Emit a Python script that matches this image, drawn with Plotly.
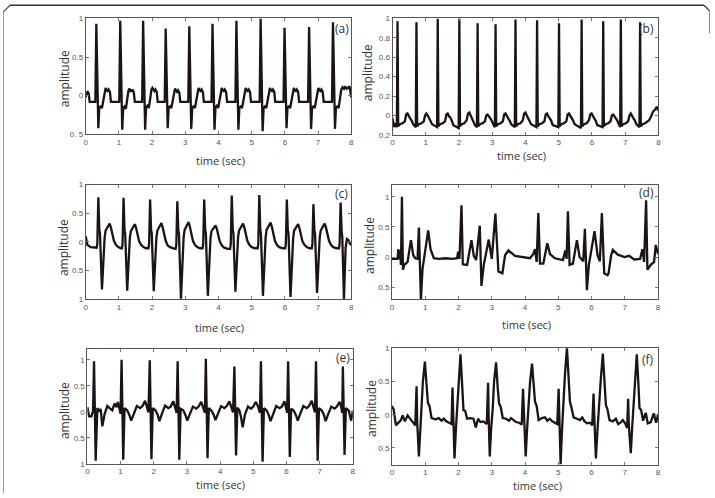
import plotly.graph_objects as go

W, H = 715, 498

# ---------------- data ----------------
# (a)
a_t = [0.00, 0.03, 0.06, 0.09, 0.12,
       0.29, 0.32, 0.38, 0.41, 0.45, 0.49, 0.53, 0.57, 0.60, 0.63, 0.66, 0.69, 0.73, 0.76,
       1.01, 1.04, 1.10, 1.13, 1.17, 1.21, 1.25, 1.29, 1.32, 1.35, 1.38, 1.41, 1.45, 1.48,
       1.70, 1.73, 1.79, 1.82, 1.86, 1.90, 1.94, 1.98, 2.01, 2.04, 2.07, 2.10, 2.14, 2.17,
       2.38, 2.41, 2.47, 2.50, 2.54, 2.58, 2.62, 2.66, 2.69, 2.72, 2.75, 2.78, 2.82, 2.85,
       3.09, 3.12, 3.18, 3.21, 3.25, 3.29, 3.33, 3.37, 3.40, 3.43, 3.46, 3.49, 3.53, 3.56,
       3.79, 3.82, 3.88, 3.91, 3.95, 3.99, 4.03, 4.07, 4.10, 4.13, 4.16, 4.19, 4.23, 4.26,
       4.51, 4.54, 4.60, 4.63, 4.67, 4.71, 4.75, 4.79, 4.82, 4.85, 4.88, 4.91, 4.95, 4.98,
       5.24, 5.27, 5.33, 5.36, 5.40, 5.44, 5.48, 5.52, 5.55, 5.58, 5.61, 5.64, 5.68, 5.71,
       5.96, 5.99, 6.05, 6.08, 6.12, 6.16, 6.20, 6.24, 6.27, 6.30, 6.33, 6.36, 6.40, 6.43,
       6.70, 6.73, 6.79, 6.82, 6.86, 6.90, 6.94, 6.98, 7.01, 7.04, 7.07, 7.10, 7.14, 7.17,
       7.42, 7.45, 7.51, 7.54, 7.58, 7.62, 7.66, 7.70, 7.74, 7.78, 7.82, 7.86, 7.90, 7.95, 8.00]
a_y = [-0.02, 0.04, 0.05, 0.03, -0.08,
       -0.08, 0.93, -0.42, -0.15, -0.14, -0.16, -0.05, 0.07, 0.10, 0.07, 0.06, 0.08, 0.05, -0.08,
       -0.08, 0.97, -0.44, -0.16, -0.14, -0.17, -0.04, 0.07, 0.09, 0.06, 0.06, 0.08, 0.04, -0.08,
       -0.08, 0.97, -0.44, -0.15, -0.13, -0.16, -0.05, 0.08, 0.10, 0.07, 0.06, 0.08, 0.05, -0.08,
       -0.08, 0.87, -0.42, -0.15, -0.14, -0.16, -0.05, 0.07, 0.09, 0.07, 0.05, 0.07, 0.04, -0.08,
       -0.08, 0.90, -0.43, -0.15, -0.14, -0.16, -0.05, 0.08, 0.10, 0.07, 0.06, 0.08, 0.05, -0.08,
       -0.08, 0.93, -0.44, -0.15, -0.13, -0.16, -0.05, 0.07, 0.10, 0.07, 0.06, 0.08, 0.05, -0.08,
       -0.08, 0.97, -0.44, -0.15, -0.14, -0.16, -0.05, 0.08, 0.10, 0.07, 0.06, 0.08, 0.05, -0.08,
       -0.08, 1.00, -0.46, -0.16, -0.14, -0.16, -0.05, 0.07, 0.10, 0.07, 0.06, 0.08, 0.05, -0.08,
       -0.08, 0.88, -0.42, -0.15, -0.14, -0.16, -0.05, 0.07, 0.10, 0.07, 0.06, 0.08, 0.05, -0.08,
       -0.08, 0.89, -0.43, -0.15, -0.14, -0.16, -0.05, 0.07, 0.10, 0.07, 0.06, 0.08, 0.05, -0.08,
       -0.08, 0.95, -0.43, -0.15, -0.14, -0.16, -0.05, 0.08, 0.11, 0.09, 0.12, 0.09, 0.10, 0.12, -0.02]

# (b)
b_t = [0.00, 0.05, 0.10,
       0.13, 0.15, 0.17, 0.22, 0.30, 0.37, 0.41, 0.45, 0.49, 0.53, 0.57, 0.62,
       0.70, 0.72, 0.74, 0.79, 0.87, 0.94, 0.98, 1.02, 1.06, 1.10, 1.14, 1.19,
       1.34, 1.36, 1.38, 1.43, 1.51, 1.58, 1.62, 1.66, 1.70, 1.74, 1.78, 1.83,
       1.99, 2.01, 2.03, 2.08, 2.16, 2.23, 2.27, 2.31, 2.35, 2.39, 2.43, 2.48,
       2.54, 2.56, 2.58, 2.63, 2.71, 2.78, 2.82, 2.86, 2.90, 2.94, 2.98, 3.03,
       3.08, 3.10, 3.12, 3.17, 3.25, 3.32, 3.36, 3.40, 3.44, 3.48, 3.52, 3.57,
       3.68, 3.70, 3.72, 3.77, 3.85, 3.92, 3.96, 4.00, 4.04, 4.08, 4.12, 4.17,
       4.33, 4.35, 4.37, 4.42, 4.50, 4.57, 4.61, 4.65, 4.69, 4.73, 4.77, 4.82,
       4.99, 5.01, 5.03, 5.08, 5.16, 5.23, 5.27, 5.31, 5.35, 5.39, 5.43, 5.48,
       5.67, 5.69, 5.71, 5.76, 5.84, 5.91, 5.95, 5.99, 6.03, 6.07, 6.11, 6.16,
       6.32, 6.34, 6.36, 6.41, 6.49, 6.56, 6.60, 6.64, 6.68, 6.72, 6.76, 6.81,
       6.85, 6.87, 6.89, 6.94, 7.02, 7.09, 7.13, 7.17, 7.21, 7.25, 7.29, 7.34,
       7.43, 7.45, 7.47, 7.52, 7.60, 7.67, 7.72, 7.78, 7.84, 7.90, 7.95, 8.00]
b_y = [-0.03, -0.12, -0.08,
       -0.12, 0.97, -0.11, -0.09, -0.08, -0.06, 0.01, 0.02, -0.01, -0.03, -0.05, -0.09,
       -0.12, 0.96, -0.11, -0.09, -0.08, -0.06, 0.00, 0.02, 0.00, -0.03, -0.05, -0.09,
       -0.12, 1.00, -0.11, -0.09, -0.08, -0.06, 0.01, 0.02, -0.01, -0.02, -0.05, -0.10,
       -0.13, 1.00, -0.11, -0.09, -0.08, -0.05, 0.02, 0.03, 0.00, -0.03, -0.06, -0.10,
       -0.12, 0.95, -0.11, -0.09, -0.08, -0.06, 0.00, 0.01, -0.01, -0.03, -0.05, -0.09,
       -0.12, 0.94, -0.11, -0.09, -0.08, -0.06, 0.01, 0.02, -0.01, -0.03, -0.05, -0.09,
       -0.12, 0.99, -0.11, -0.09, -0.08, -0.05, 0.02, 0.03, 0.00, -0.03, -0.05, -0.09,
       -0.12, 0.98, -0.11, -0.09, -0.08, -0.06, 0.01, 0.02, -0.01, -0.03, -0.05, -0.10,
       -0.12, 0.95, -0.11, -0.09, -0.08, -0.06, 0.01, 0.02, 0.00, -0.03, -0.05, -0.09,
       -0.13, 0.99, -0.11, -0.09, -0.08, -0.05, 0.01, 0.02, -0.01, -0.03, -0.05, -0.10,
       -0.12, 0.97, -0.11, -0.09, -0.08, -0.06, 0.00, 0.01, -0.01, -0.03, -0.05, -0.09,
       -0.12, 0.99, -0.11, -0.09, -0.08, -0.06, 0.00, 0.02, -0.01, -0.03, -0.05, -0.09,
       -0.12, 0.96, -0.11, -0.09, -0.08, -0.06, -0.05, -0.01, 0.04, 0.06, 0.09, 0.05]

# (c)
c_t = [0.00, 0.05, 0.15, 0.30,
       0.33, 0.35, 0.38, 0.41, 0.43, 0.49, 0.54, 0.57, 0.60, 0.64, 0.68, 0.72, 0.76, 0.80, 0.85, 0.91, 0.98, 1.06,
       1.09, 1.11, 1.14, 1.17, 1.19, 1.25, 1.30, 1.33, 1.36, 1.40, 1.44, 1.48, 1.52, 1.56, 1.61, 1.67, 1.74, 1.82,
       1.89, 1.91, 1.94, 1.97, 1.99, 2.05, 2.10, 2.13, 2.16, 2.20, 2.24, 2.28, 2.32, 2.36, 2.41, 2.47, 2.54, 2.64,
       2.71, 2.73, 2.76, 2.79, 2.81, 2.87, 2.92, 2.95, 2.98, 3.02, 3.06, 3.10, 3.14, 3.18, 3.23, 3.29, 3.36, 3.45,
       3.52, 3.54, 3.57, 3.60, 3.62, 3.68, 3.73, 3.76, 3.79, 3.83, 3.87, 3.91, 3.95, 3.99, 4.04, 4.10, 4.17, 4.28,
       4.35, 4.37, 4.40, 4.43, 4.45, 4.51, 4.56, 4.59, 4.62, 4.66, 4.70, 4.74, 4.78, 4.82, 4.87, 4.93, 5.00, 5.11,
       5.18, 5.20, 5.23, 5.26, 5.28, 5.34, 5.39, 5.42, 5.45, 5.49, 5.53, 5.57, 5.61, 5.65, 5.70, 5.76, 5.83, 5.94,
       6.01, 6.03, 6.06, 6.09, 6.11, 6.17, 6.22, 6.25, 6.28, 6.32, 6.36, 6.40, 6.44, 6.48, 6.53, 6.59, 6.66, 6.74,
       6.81, 6.83, 6.86, 6.89, 6.91, 6.97, 7.02, 7.05, 7.08, 7.12, 7.16, 7.20, 7.24, 7.28, 7.33, 7.39, 7.46, 7.56,
       7.63, 7.65, 7.68, 7.71, 7.73, 7.78, 7.83, 7.87, 7.92, 7.96, 8.00]
c_y = [0.10, -0.05, -0.09, -0.10,
       -0.10, -0.03, 0.78, 0.21, 0.15, -0.83, -0.12, 0.08, 0.20, 0.24, 0.28, 0.32, 0.25, 0.12, 0.02, -0.05, -0.09, -0.11,
       -0.11, -0.03, 0.77, 0.20, 0.14, -0.85, -0.13, 0.07, 0.19, 0.23, 0.29, 0.31, 0.24, 0.11, 0.01, -0.05, -0.09, -0.11,
       -0.11, -0.03, 0.74, 0.21, 0.15, -0.86, -0.12, 0.08, 0.20, 0.24, 0.28, 0.33, 0.25, 0.12, 0.02, -0.06, -0.09, -0.11,
       -0.12, -0.04, 0.71, 0.20, 0.14, -0.99, -0.13, 0.08, 0.21, 0.26, 0.30, 0.35, 0.26, 0.12, 0.02, -0.05, -0.09, -0.11,
       -0.11, -0.03, 0.74, 0.21, 0.15, -0.94, -0.12, 0.07, 0.19, 0.23, 0.27, 0.29, 0.23, 0.11, 0.01, -0.06, -0.10, -0.12,
       -0.12, -0.03, 0.81, 0.22, 0.15, -0.87, -0.12, 0.08, 0.20, 0.25, 0.28, 0.32, 0.25, 0.12, 0.02, -0.05, -0.09, -0.11,
       -0.11, -0.03, 0.82, 0.21, 0.14, -0.94, -0.13, 0.08, 0.21, 0.26, 0.30, 0.34, 0.26, 0.12, 0.02, -0.05, -0.09, -0.11,
       -0.11, -0.03, 0.74, 0.20, 0.15, -0.96, -0.12, 0.07, 0.20, 0.24, 0.29, 0.31, 0.24, 0.11, 0.01, -0.05, -0.09, -0.11,
       -0.11, -0.04, 0.66, 0.20, 0.14, -0.89, -0.12, 0.08, 0.20, 0.24, 0.28, 0.32, 0.25, 0.12, 0.02, -0.05, -0.09, -0.11,
       -0.11, -0.03, 0.69, 0.20, 0.10, -1.00, -0.10, 0.05, 0.03, -0.03, -0.05]

# (d)
d_t = [0.00, 0.17, 0.19, 0.22, 0.24, 0.27, 0.30, 0.33, 0.37, 0.47, 0.57, 0.64, 0.70, 0.77,
       0.81, 0.84, 0.87, 0.92, 1.00, 1.09, 1.16, 1.26, 1.41, 1.61, 1.81, 1.96, 1.99, 2.03,
       2.09, 2.13, 2.26, 2.39, 2.46, 2.53, 2.64, 2.69, 2.76, 2.91, 3.00, 3.11, 3.20, 3.32,
       3.40, 3.50, 3.70, 3.90, 4.15, 4.25, 4.30, 4.35, 4.40, 4.45, 4.55, 4.67, 4.75, 4.90,
       5.14, 5.21, 5.25, 5.29, 5.34, 5.44, 5.56, 5.64, 5.75, 5.80, 5.86, 5.92, 6.00, 6.09,
       6.18, 6.25, 6.31, 6.38, 6.48, 6.51, 6.59, 6.64, 6.79, 6.99, 7.13, 7.28, 7.46, 7.53,
       7.58, 7.64, 7.68, 7.78, 7.88, 7.93, 8.00]
d_y = [-0.03, -0.03, 0.13, -0.03, 0.11, -0.13, 1.00, -0.21, -0.13, -0.08, 0.28, 0.03, -0.02, -0.03,
       0.49, -0.08, -0.72, -0.19, 0.13, 0.44, 0.13, -0.02, -0.03, -0.02, -0.03, -0.02, 0.09, -0.03,
       0.86, -0.12, -0.13, 0.28, 0.02, -0.05, 0.52, -0.48, -0.13, 0.29, -0.03, 0.72, -0.24, -0.27,
       0.03, 0.11, 0.02, 0.00, -0.02, 0.05, 0.13, -0.08, 0.73, -0.11, -0.11, 0.23, 0.05, -0.02,
       -0.05, 0.11, -0.03, 0.76, -0.13, -0.11, 0.28, 0.00, -0.07, 0.47, -0.55, -0.13, 0.13, 0.43,
       0.03, -0.07, 0.73, -0.27, -0.30, -0.27, 0.03, 0.12, 0.04, 0.00, 0.02, -0.04, -0.03, 0.13,
       -0.08, 0.94, -0.21, -0.13, -0.08, 0.20, 0.05]

# (e)
e_t = [0.00, 0.05, 0.12, 0.17,
       0.20, 0.25, 0.30, 0.35, 0.40, 0.45, 0.52, 0.60, 0.67, 0.75, 0.82, 0.88, 0.92, 0.97, 1.00,
       1.03, 1.08, 1.12, 1.20, 1.27, 1.32, 1.40, 1.49, 1.59, 1.66, 1.74, 1.80, 1.84,
       1.88, 1.93, 1.97, 2.05, 2.12, 2.17, 2.25, 2.34, 2.44, 2.51, 2.59, 2.65, 2.69,
       2.72, 2.77, 2.81, 2.89, 2.96, 3.01, 3.09, 3.18, 3.28, 3.35, 3.43, 3.49, 3.54,
       3.57, 3.62, 3.66, 3.74, 3.81, 3.86, 3.94, 4.03, 4.13, 4.20, 4.28, 4.34, 4.39,
       4.43, 4.48, 4.52, 4.58, 4.63, 4.68, 4.75, 4.84, 4.93, 5.00, 5.08, 5.15, 5.20,
       5.23, 5.28, 5.32, 5.40, 5.47, 5.52, 5.60, 5.69, 5.79, 5.86, 5.94, 5.99, 6.02,
       6.05, 6.10, 6.14, 6.22, 6.29, 6.34, 6.42, 6.51, 6.61, 6.68, 6.76, 6.82, 6.86,
       6.89, 6.94, 6.98, 7.06, 7.13, 7.18, 7.26, 7.35, 7.45, 7.52, 7.60, 7.65, 7.68,
       7.70, 7.75, 7.79, 7.87, 7.95, 8.00]
e_y = [0.09, -0.09, -0.09, 0.02,
       0.97, -0.94, 0.07, 0.02, 0.05, -0.28, -0.04, 0.11, 0.07, 0.03, 0.16, 0.09, 0.19, 0.02, -0.04,
       1.00, -0.92, 0.07, 0.03, -0.07, -0.17, -0.04, 0.11, 0.07, 0.11, 0.21, 0.09, -0.01,
       0.99, -0.91, 0.07, 0.03, -0.06, -0.18, -0.03, 0.12, 0.07, 0.10, 0.20, 0.08, -0.02,
       0.97, -0.92, 0.06, 0.03, -0.07, -0.17, -0.04, 0.10, 0.06, 0.10, 0.19, 0.09, -0.02,
       1.02, -0.89, 0.07, 0.02, -0.06, -0.16, -0.03, 0.11, 0.07, 0.11, 0.20, 0.08, -0.01,
       0.87, -0.84, 0.08, 0.03, -0.10, -0.30, -0.05, 0.10, 0.06, 0.10, 0.19, 0.09, -0.02,
       0.97, -0.96, 0.07, 0.03, -0.07, -0.18, -0.04, 0.11, 0.07, 0.10, 0.20, 0.09, -0.02,
       0.97, -0.87, 0.06, 0.02, -0.07, -0.17, -0.03, 0.11, 0.07, 0.11, 0.21, 0.08, -0.01,
       0.97, -0.94, 0.07, 0.03, -0.06, -0.18, -0.04, 0.10, 0.06, 0.10, 0.19, 0.09, -0.02,
       0.87, -0.83, 0.07, 0.03, -0.17, 0.02]

# (f)
f_t = [0.00, 0.05, 0.12, 0.20, 0.27, 0.32, 0.39, 0.47, 0.54, 0.62, 0.70,
       0.74, 0.76, 0.81, 0.85, 0.89, 0.93, 0.99, 1.04, 1.08, 1.13, 1.19, 1.31, 1.41, 1.49, 1.56, 1.63, 1.71, 1.79,
       1.82, 1.84, 1.88, 1.92, 1.96, 2.00, 2.06, 2.11, 2.15, 2.20, 2.26, 2.35, 2.45, 2.52, 2.59, 2.66, 2.75, 2.85,
       2.89, 2.91, 2.94, 2.98, 3.03, 3.07, 3.13, 3.18, 3.22, 3.27, 3.33, 3.43, 3.52, 3.58, 3.65, 3.73, 3.82, 3.90,
       3.94, 3.97, 4.02, 4.06, 4.10, 4.15, 4.21, 4.26, 4.30, 4.35, 4.41, 4.51, 4.60, 4.67, 4.74, 4.82, 4.90, 4.97,
       5.01, 5.03, 5.07, 5.11, 5.15, 5.20, 5.26, 5.31, 5.35, 5.40, 5.46, 5.56, 5.65, 5.72, 5.79, 5.87, 5.95, 6.02,
       6.06, 6.09, 6.13, 6.18, 6.22, 6.28, 6.34, 6.39, 6.43, 6.48, 6.54, 6.64, 6.73, 6.80, 6.87, 6.94, 7.01, 7.07,
       7.10, 7.12, 7.18, 7.22, 7.26, 7.30, 7.36, 7.41, 7.44, 7.49, 7.55, 7.63, 7.69, 7.78, 7.87, 7.94, 8.00]
f_y = [0.13, 0.08, -0.16, -0.11, -0.08, -0.01, -0.10, -0.01, -0.06, -0.11, -0.16,
       0.43, -0.12, -0.63, -0.22, 0.10, 0.50, 0.80, 0.45, 0.18, 0.13, -0.05, -0.07, -0.05, -0.09, -0.06, -0.10, -0.12, -0.14,
       0.41, -0.12, -0.66, -0.24, 0.12, 0.55, 0.91, 0.45, 0.07, 0.06, -0.06, -0.05, -0.06, -0.19, -0.06, -0.11, -0.10, -0.14,
       0.48, -0.10, -0.63, -0.22, 0.10, 0.50, 0.79, 0.40, 0.17, 0.12, -0.05, -0.06, -0.09, -0.05, -0.08, -0.11, -0.12, -0.15,
       0.39, -0.12, -0.63, -0.24, 0.10, 0.48, 0.77, 0.40, 0.20, 0.13, -0.08, -0.05, -0.04, -0.09, -0.06, -0.10, -0.12, -0.14,
       0.39, -0.12, -0.75, -0.25, 0.15, 0.60, 1.01, 0.50, 0.20, 0.10, -0.04, -0.06, -0.08, -0.04, -0.10, -0.13, -0.12, -0.16,
       0.32, -0.12, -0.66, -0.22, 0.15, 0.55, 0.92, 0.45, 0.15, 0.08, -0.08, -0.10, -0.06, -0.14, -0.12, -0.08, -0.13, -0.20,
       0.24, -0.15, -0.58, -0.20, 0.15, 0.55, 0.91, 0.45, 0.10, 0.07, -0.09, 0.03, -0.13, -0.11, 0.02, -0.12, 0.00]

panel_names = ["(a)", "(b)", "(c)", "(d)", "(e)", "(f)"]
x_ticks = [0, 1, 2, 3, 4, 5, 6, 7, 8]
y_tickvals = [[1, 0.5, 0, -0.5],
              [1, 0.8, 0.6, 0.4, 0.2, 0, -0.2],
              [1, 0.5, 0, -0.5, -1],
              [1, 0.5, 0, -0.5],
              [1, 0.5, 0, -0.5, -1],
              [1, 0.5, 0, -0.5]]
y_ticktext = [["1", "0.5", "0", "0. 5"],
              ["1", "0.8", "0.6", "0.4", "0.2", "0", "0.2"],
              ["1", "0.5", "0", "0.5", "1"],
              ["1", "0.5", "0", "0.5"],
              ["1", "0.5", "0", "0.5", "1"],
              ["1", "0.5", "0", "0.5"]]
y_ranges = [[-0.5, 1], [-0.2, 1], [-1, 1], [-0.7, 1.2], [-1, 1.2], [-0.75, 1]]
series = [(a_t, a_y), (b_t, b_y), (c_t, c_y), (d_t, d_y), (e_t, e_y), (f_t, f_y)]

# ---------------- layout geometry (pixels) ----------------
boxes = [(84.3, 351.7, 14.7, 132.7), (393.3, 661.0, 14.7, 133.3),
         (84.3, 351.7, 184.0, 300.7), (392.7, 660.7, 184.0, 300.7),
         (86.0, 353.3, 351.7, 468.3), (392.7, 660.7, 350.7, 469.0)]
xlab_pos = [(220, 159), (523, 154), (219, 329), (528, 326), (220, 489), (539, 490)]
ylab_pos = [(63, 76), (368, 70), (62, 248), (370, 246), (63, 414), (372, 412)]
plab_pos = [(351, 25), (659, 25), (350, 193), (659, 192), (352, 360), (659, 362)]


def px(x):
    return x / W


def py(y):
    return 1 - y / H


fig = go.Figure()
layout = dict(width=W, height=H, margin=dict(l=0, r=0, t=0, b=0),
              paper_bgcolor="white", plot_bgcolor="white", showlegend=False,
              font=dict(family="Open Sans, sans-serif", color="#333"))
annotations = []
for i in range(6):
    n = "" if i == 0 else str(i + 1)
    x0, x1, y0, y1 = boxes[i]
    t, v = series[i]
    fig.add_trace(go.Scatter(x=t, y=v, mode="lines",
                             line=dict(color="#1b1315", width=2.3),
                             xaxis="x" + n, yaxis="y" + n, hoverinfo="skip"))
    common = dict(showline=True, linecolor="#555", linewidth=1, mirror="ticks",
                  ticks="inside", ticklen=3, tickcolor="#777", showgrid=False,
                  zeroline=False, tickfont=dict(size=8, color="#555",
                                                family="Liberation Sans Narrow, Arial Narrow, sans-serif"))
    layout["xaxis" + n] = dict(domain=[px(x0), px(x1)], range=[0, 8], anchor="y" + n,
                               tickvals=x_ticks, ticktext=[str(k) for k in x_ticks], **common)
    layout["yaxis" + n] = dict(domain=[py(y1), py(y0)], range=y_ranges[i], anchor="x" + n,
                               tickvals=y_tickvals[i], ticktext=y_ticktext[i], **common)
    annotations.append(dict(text="time (sec)", x=px(xlab_pos[i][0]), y=py(xlab_pos[i][1]),
                            xref="paper", yref="paper", showarrow=False, xanchor="center",
                            yanchor="middle", font=dict(size=11, color="#333")))
    annotations.append(dict(text="amplitude", x=px(ylab_pos[i][0]), y=py(ylab_pos[i][1]),
                            xref="paper", yref="paper", showarrow=False, xanchor="center",
                            yanchor="middle", textangle=-90, font=dict(size=12, color="#333")))
    annotations.append(dict(text=panel_names[i], x=px(plab_pos[i][0]), y=py(plab_pos[i][1]),
                            xref="paper", yref="paper", showarrow=False, xanchor="right",
                            yanchor="middle", font=dict(size=12, color="#333")))
layout["annotations"] = annotations

# outer frame (top edge dark, left edge light)
layout["shapes"] = [
    dict(type="line", xref="paper", yref="paper", x0=px(8), x1=px(707), y0=py(1.2), y1=py(1.2),
         line=dict(color="#333", width=1.5)),
    dict(type="line", xref="paper", yref="paper", x0=px(1.5), x1=px(1.5), y0=py(8), y1=py(498),
         line=dict(color="#999", width=1)),
    dict(type="line", xref="paper", yref="paper", x0=px(1.5), x1=px(8), y0=py(8), y1=py(1.2),
         line=dict(color="#555", width=1.3)),
    dict(type="line", xref="paper", yref="paper", x0=px(707), x1=px(712.5), y0=py(1.2), y1=py(7),
         line=dict(color="#333", width=1.3)),
    dict(type="line", xref="paper", yref="paper", x0=px(712.5), x1=px(712.5), y0=py(7), y1=py(30),
         line=dict(color="#888", width=1)),
]
fig.update_layout(**layout)
fig.write_html("out.html")
